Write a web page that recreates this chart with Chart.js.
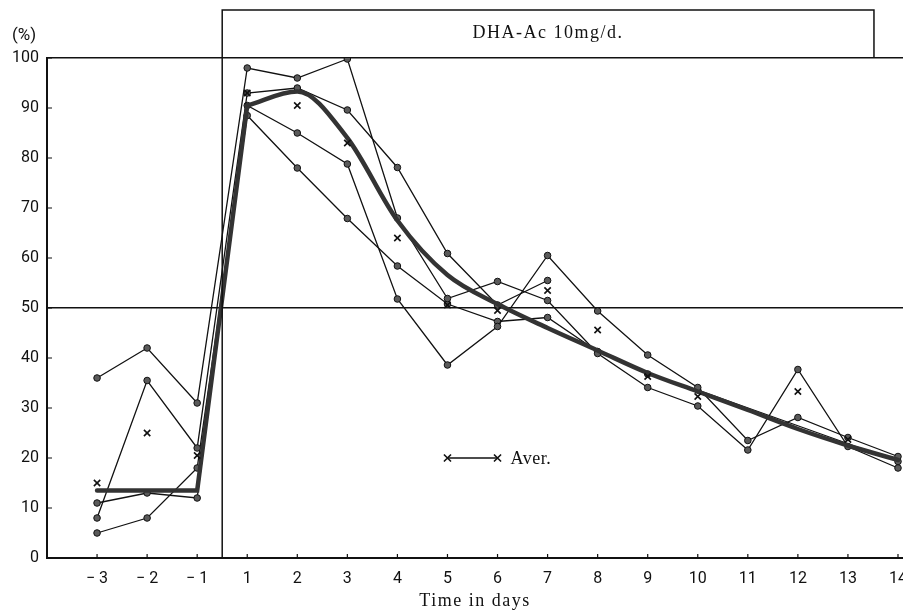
<!DOCTYPE html>
<html>
<head>
<meta charset="utf-8">
<script src="https://cdn.jsdelivr.net/npm/chart.js@4"></script>
<style>
  html, body { margin: 0; padding: 0; background: #fff; }
  #wrap { width: 903px; height: 615px; position: relative; }
</style>
</head>
<body>
<div id="wrap"><canvas id="chart"></canvas></div>
<script>
// days on the x axis (there is no day 0)
const days = [-3, -2, -1, 1, 2, 3, 4, 5, 6, 7, 8, 9, 10, 11, 12, 13, 14];

// individual cases (%)
const caseA = [36, 42, 31, 98, 96, 99.8, 68, 51.9, 55.3, 51.5, 40.9, 34.1, 30.4, 21.6, 37.7, 22.3, 18];
const caseB = [8, 35.5, 22, 93, 94, 89.6, 78.1, 60.9, 50.6, 55.5, null, null, null, null, null, null, null];
const caseC = [11, 13, 12, 90.5, 85, 78.8, 51.8, 38.6, 46.3, 60.5, 49.4, 40.6, 34.1, 23.5, 28.1, 24.1, 20.3];
const caseD = [5, 8, 18, 88.5, 78, 67.9, 58.4, 50.8, 47.3, 48.1, 41.3, 36.8, 33.6, null, null, null, 19.3];

// average (x marks)
const average = [15, 25, 20.5, 93, 90.5, 83, 64, 50.6, 49.5, 53.5, 45.6, 36.3, 32.3, null, 33.3, 23.7, null];

// smoothed course (thick line)
const fitted = [13.5, 13.5, 13.5, 90.5, 93.3, 84, 67.5, 56.6, 50.8, 46, 41.5, 37, 33.3, 29.6, 25.8, 22.5, 19.6];

// legend sample "x——x Aver."
const legendDays = [5, 6];
const legendValues = [20, 20];

const yTicks = [0, 10, 20, 30, 40, 50, 60, 70, 80, 90, 100];
const refLines = [50, 100];
const boxLabel = 'DHA-Ac 10mg/d.';
const treatStart = 0.5;   // between day -1 and day 1
const treatEnd = 13.52;

const ink = '#111';

// day -> slot on the axis (day 0 is skipped)
const pos = d => d < 0 ? d + 1 : d;
const toPoints = vals => days.map((d, i) => ({ x: pos(d), y: vals[i] }));

const caseStyle = {
    borderColor: ink,
    borderWidth: 1.3,
    pointRadius: 3.3,
    pointBackgroundColor: '#5a5a5a',
    pointBorderColor: ink,
    pointBorderWidth: 1,
    tension: 0,
    order: 3
};

const fitPoints = toPoints(fitted);

const decor = {
    id: 'decor',
    afterDatasetsDraw(chart) {
        const { ctx, chartArea } = chart;
        const xs = chart.scales.x;
        const ys = chart.scales.y;
        ctx.save();
        ctx.strokeStyle = ink;
        ctx.fillStyle = ink;

        // dosing box + vertical line
        const bx0 = xs.getPixelForValue(treatStart);
        const bx1 = xs.getPixelForValue(treatEnd);
        const bTop = 10;
        ctx.lineWidth = 1.5;
        ctx.beginPath();
        ctx.moveTo(bx0, ys.getPixelForValue(0));
        ctx.lineTo(bx0, bTop);
        ctx.lineTo(bx1, bTop);
        ctx.lineTo(bx1, ys.getPixelForValue(100));
        ctx.stroke();

        ctx.font = '18px "Liberation Serif", serif';
        ctx.textAlign = 'center';
        ctx.textBaseline = 'middle';
        ctx.letterSpacing = '1.5px';
        ctx.fillText(boxLabel, (bx0 + bx1) / 2, 33);

        // small inward tick marks
        ctx.lineWidth = 1.2;
        ctx.beginPath();
        xs.ticks.forEach(t => {
            const px = xs.getPixelForValue(t.value);
            ctx.moveTo(px, chartArea.bottom);
            ctx.lineTo(px, chartArea.bottom - 4);
        });
        yTicks.forEach(v => {
            const py = ys.getPixelForValue(v);
            ctx.moveTo(chartArea.left, py);
            ctx.lineTo(chartArea.left + 5, py);
        });
        ctx.stroke();

        // legend text
        ctx.font = '18px "Liberation Serif", serif';
        ctx.letterSpacing = '0.5px';
        ctx.textAlign = 'left';
        ctx.fillText('Aver.', xs.getPixelForValue(legendDays[1]) + 13, ys.getPixelForValue(legendValues[1]) + 1);

        // unit and axis title
        ctx.font = '17px Roboto, sans-serif';
        ctx.textAlign = 'center';
        ctx.letterSpacing = '0px';
        ctx.fillText('(%)', 24, 36);
        ctx.font = '18px "Liberation Serif", serif';
        ctx.letterSpacing = '1.5px';
        ctx.fillText('Time in days', (chartArea.left + chartArea.right) / 2, 601);
        ctx.restore();
    }
};

new Chart(document.getElementById('chart'), {
    type: 'line',
    data: {
        datasets: [
            { ...caseStyle, data: toPoints(caseA) },
            { ...caseStyle, data: toPoints(caseB) },
            { ...caseStyle, data: toPoints(caseC) },
            { ...caseStyle, data: toPoints(caseD), spanGaps: true },
            {
                data: toPoints(average),
                showLine: false,
                pointStyle: 'crossRot',
                pointRadius: 4.5,
                pointBorderWidth: 1.6,
                pointBorderColor: ink,
                order: 1
            },
            {
                // rise before the peak: straight segments
                data: fitPoints.slice(0, 4),
                borderColor: '#333',
                borderWidth: 4.5,
                pointRadius: 0,
                tension: 0,
                borderCapStyle: 'round',
                order: 2
            },
            {
                data: fitPoints.slice(3),
                borderColor: '#333',
                borderWidth: 4.5,
                pointRadius: 0,
                cubicInterpolationMode: 'monotone',
                borderCapStyle: 'round',
                order: 2
            },
            {
                data: legendDays.map((d, i) => ({ x: pos(d), y: legendValues[i] })),
                borderColor: ink,
                borderWidth: 1.4,
                pointStyle: 'crossRot',
                pointRadius: 5,
                pointBorderWidth: 1.6,
                pointBorderColor: ink,
                order: 1
            }
        ]
    },
    options: {
        responsive: true,
        maintainAspectRatio: false,
        animation: false,
        layout: { autoPadding: false, padding: { top: 58, right: 0, bottom: 0, left: 0 } },
        plugins: {
            legend: { display: false },
            title: { display: false },
            tooltip: { enabled: false }
        },
        scales: {
            x: {
                type: 'linear',
                min: -3.0,
                max: 14.1,
                grid: { display: false, drawTicks: false },
                border: { display: true, color: ink, width: 2 },
                afterBuildTicks: scale => {
                    scale.ticks = days.map(d => ({ value: pos(d) }));
                },
                afterFit: scale => {
                    scale.height = 57;
                    scale.paddingLeft = 0;
                    scale.paddingRight = 0;
                },
                ticks: {
                    autoSkip: false,
                    maxRotation: 0,
                    padding: 11,
                    color: ink,
                    font: { family: 'Roboto', size: 16 },
                    callback: value => {
                        const d = value <= 0 ? value - 1 : value;
                        return d < 0 ? '\u2212 ' + (-d) : String(d);
                    }
                }
            },
            y: {
                min: 0,
                max: 100,
                grid: {
                    drawTicks: false,
                    lineWidth: 1.4,
                    color: c => refLines.includes(c.tick.value) ? ink : 'rgba(0,0,0,0)'
                },
                border: { display: true, color: ink, width: 2 },
                afterBuildTicks: scale => {
                    scale.ticks = yTicks.map(v => ({ value: v }));
                },
                afterFit: scale => {
                    scale.width = 47;
                    scale.paddingTop = 0;
                    scale.paddingBottom = 0;
                },
                ticks: {
                    padding: 8,
                    color: ink,
                    font: { family: 'Roboto', size: 16 }
                }
            }
        }
    },
    plugins: [decor]
});
</script>
</body>
</html>
